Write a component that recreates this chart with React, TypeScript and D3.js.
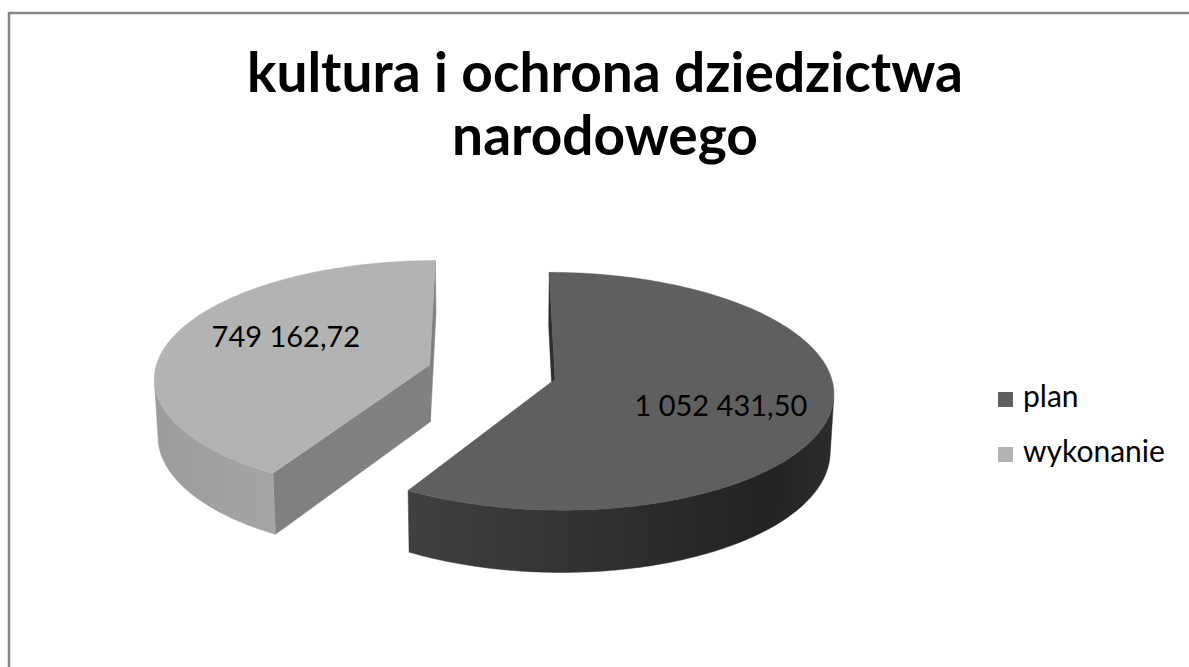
import React, { useEffect, useRef } from "react";
import * as d3 from "d3";

// ---- data ----
const categories = ["plan", "wykonanie"];
const values = [1052431.5, 749162.72];
const valueLabels = ["1 052 431,50", "749 162,72"];
const titleLines = ["kultura i ochrona dziedzictwa", "narodowego"];

// ---- styles ----
const topColors = ["#5f5f5f", "#b3b3b3"];
const sideStops = [
  [
    [0, "#404040"],
    [0.45, "#303030"],
    [0.85, "#222222"],
    [1, "#2c2c2c"],
  ],
  [
    [0, "#9c9c9c"],
    [1, "#b0b0b0"],
  ],
];
const radialColors = ["#2e2e2e", "#808080"];
const labelDx = [2, 11];
const labelDy = [8, -10];

const W = 1189;
const H = 667;

export default function App() {
  const ref = useRef<SVGSVGElement>(null);

  useEffect(() => {
    const svg = d3.select(ref.current);
    svg.selectAll("*").remove();

    // frame
    svg
      .append("rect")
      .attr("x", 9)
      .attr("y", 13)
      .attr("width", W + 50)
      .attr("height", H + 50)
      .attr("fill", "#ffffff")
      .attr("stroke", "#878787")
      .attr("stroke-width", 2.5);

    // title
    const title = svg
      .append("text")
      .attr("text-anchor", "middle")
      .attr("font-family", "Lato, sans-serif")
      .attr("font-weight", "bold")
      .attr("font-size", 55)
      .attr("fill", "#000");
    titleLines.forEach((t, i) => {
      title
        .append("tspan")
        .attr("x", 605)
        .attr("y", 92 + i * 63)
        .text(t);
    });

    // 3D projection
    const cam = { x: 492, y: 372, S: 275, D: 9, e: (25 * Math.PI) / 180 };
    const se = Math.sin(cam.e);
    const ce = Math.cos(cam.e);
    const C = [0, cam.D * se, cam.D * ce];
    const proj = (X: number, Y: number, Z: number): [number, number] => {
      const depth = cam.D - Y * se - Z * ce;
      const up = Y * ce - Z * se;
      const f = (cam.S * cam.D) / depth;
      return [cam.x + f * X, cam.y - f * up];
    };
    const explode = 0.236;
    const thick = 0.232;

    const pie = d3
      .pie<number>()
      .sort(null)
      .value((d) => d)
      .startAngle(0)
      .endAngle(Math.PI * 2);
    const arcs = pie(values);

    const line = d3.line();
    const defs = svg.append("defs");

    // draw back slice (wykonanie) first, then plan
    const order = [1, 0];
    order.forEach((i) => {
      const a = arcs[i];
      const t0 = a.startAngle;
      const t1 = a.endAngle;
      const mid = (t0 + t1) / 2;
      const ox = explode * Math.sin(mid);
      const oz = -explode * Math.cos(mid);
      const rimP = (t: number, Y: number) =>
        proj(ox + Math.sin(t), Y, oz - Math.cos(t));
      const ctrP = (Y: number) => proj(ox, Y, oz);
      const g = svg.append("g");

      const N = 240;
      const ts = d3.range(N + 1).map((k) => t0 + ((t1 - t0) * k) / N);

      // gradient extents
      const xs = ts.map((t) => rimP(t, 0)[0]);
      const gid = "side" + i;
      const grad = defs
        .append("linearGradient")
        .attr("id", gid)
        .attr("gradientUnits", "userSpaceOnUse")
        .attr("x1", d3.min(xs)!)
        .attr("x2", d3.max(xs)!)
        .attr("y1", 0)
        .attr("y2", 0);
      sideStops[i].forEach(([o, c]) =>
        grad.append("stop").attr("offset", o as number).attr("stop-color", c as string)
      );

      // radial faces
      const radial = (t: number, sign: number) => {
        const nx = sign * Math.cos(t);
        const nz = sign * Math.sin(t);
        const px = ox + 0.5 * Math.sin(t);
        const pz = oz - 0.5 * Math.cos(t);
        const dot = (C[0] - px) * nx + (C[2] - pz) * nz;
        if (dot <= 0) return;
        const pts = [ctrP(0), rimP(t, 0), rimP(t, -thick), ctrP(-thick)];
        g.append("path")
          .attr("d", line(pts)! + "Z")
          .attr("fill", radialColors[i])
          .attr("stroke", radialColors[i])
          .attr("stroke-width", 0.5);
      };
      radial(t0, -1);
      radial(t1, 1);

      // outer curved side: visible runs
      const vis = ts.map((t) => {
        const px = ox + Math.sin(t);
        const pz = oz - Math.cos(t);
        const dot = (C[0] - px) * Math.sin(t) + (C[2] - pz) * -Math.cos(t);
        return dot > 0;
      });
      let run: number[] = [];
      const flush = () => {
        if (run.length > 1) {
          const topPts = run.map((t) => rimP(t, 0));
          const botPts = run.map((t) => rimP(t, -thick)).reverse();
          g.append("path")
            .attr("d", line([...topPts, ...botPts])! + "Z")
            .attr("fill", `url(#${gid})`)
            .attr("stroke", `url(#${gid})`)
            .attr("stroke-width", 0.5);
        }
        run = [];
      };
      ts.forEach((t, k) => {
        if (vis[k]) run.push(t);
        else flush();
      });
      flush();

      // top face
      const topPts = [ctrP(0), ...ts.map((t) => rimP(t, 0))];
      g.append("path")
        .attr("d", line(topPts)! + "Z")
        .attr("fill", topColors[i])
        .attr("stroke", topColors[i])
        .attr("stroke-width", 0.5);

      // label
      const r = 0.6;
      const [lx, ly] = proj(ox + r * Math.sin(mid), 0, oz - r * Math.cos(mid));
      g.append("text")
        .attr("x", lx + labelDx[i])
        .attr("y", ly + 10 + labelDy[i])
        .attr("text-anchor", "middle")
        .attr("font-family", "Lato, sans-serif")
        .attr("font-size", 29)
        .attr("fill", "#000")
        .text(valueLabels[i]);
    });

    // legend
    const legend = svg.append("g");
    categories.forEach((c, i) => {
      legend
        .append("rect")
        .attr("x", 998)
        .attr("y", 392 + i * 55)
        .attr("width", 15)
        .attr("height", 15)
        .attr("fill", topColors[i]);
      legend
        .append("text")
        .attr("x", 1023)
        .attr("y", 407 + i * 55)
        .attr("font-family", "Lato, sans-serif")
        .attr("font-size", 30)
        .attr("fill", "#000")
        .text(c);
    });
  }, []);

  return (
    <svg
      ref={ref}
      width={W}
      height={H}
      style={{ position: "absolute", left: 0, top: 0, background: "#fff" }}
    />
  );
}
